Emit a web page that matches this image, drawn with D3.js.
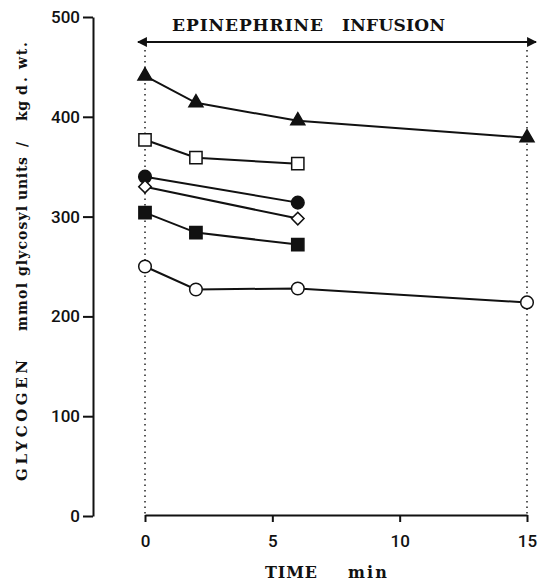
<!DOCTYPE html>
<html>
<head>
<meta charset="utf-8">
<script src="https://cdn.jsdelivr.net/npm/d3@7"></script>
<style>
  body { margin: 0; background: #fff; }
  svg { display: block; }
  .tick text { font-family: Roboto, "Liberation Sans", sans-serif; font-weight: 500; font-size: 17px; fill: #111; }
  .lab { font-family: "DejaVu Serif", "Liberation Serif", serif; font-weight: bold; fill: #111; }
</style>
</head>
<body>
<svg id="chart"></svg>
<script>
let width = 538, height = 583;

// data (time in min, glycogen mmol/kg d.wt.)
let triTime = [0, 2, 6, 15];
let triVal = [441, 414, 396, 379];
let openSqTime = [0, 2, 6];
let openSqVal = [377, 359, 353];
let dotTime = [0, 6];
let dotVal = [340, 314];
let diaTime = [0, 6];
let diaVal = [330, 298];
let fillSqTime = [0, 2, 6];
let fillSqVal = [304, 284, 272];
let ringTime = [0, 2, 6, 15];
let ringVal = [250, 227, 228, 214];

let xTicks = [0, 5, 10, 15];
let yTicks = [0, 100, 200, 300, 400, 500];

let series = [
    {t: triTime, v: triVal, shape: 'triangle', fill: '#111'},
    {t: openSqTime, v: openSqVal, shape: 'square', fill: '#fff'},
    {t: dotTime, v: dotVal, shape: 'circle', fill: '#111'},
    {t: diaTime, v: diaVal, shape: 'diamond', fill: '#fff'},
    {t: fillSqTime, v: fillSqVal, shape: 'square', fill: '#111'},
    {t: ringTime, v: ringVal, shape: 'circle', fill: '#fff'}
];

let svg = d3.select('#chart').attr('width', width).attr('height', height);

let x = d3.scaleLinear().domain([0, 15]).range([145, 527]);
let y = d3.scaleLinear().domain([0, 500]).range([516, 17]);

// y axis
let gy = svg.append('g')
    .attr('transform', 'translate(93,0)')
    .call(d3.axisLeft(y).tickValues(yTicks).tickSize(10).tickPadding(3).tickSizeOuter(0));
gy.select('.domain').attr('stroke', '#111').attr('stroke-width', 2);
gy.selectAll('.tick line').attr('stroke', '#111').attr('stroke-width', 2);

// x axis
let gx = svg.append('g')
    .attr('transform', 'translate(0,515)')
    .call(d3.axisBottom(x).tickValues(xTicks).tickSize(7).tickPadding(13).tickSizeOuter(0));
gx.select('.domain').attr('stroke', '#111').attr('stroke-width', 2);
gx.selectAll('.tick line').attr('stroke', '#111').attr('stroke-width', 2);

// dotted lines at start/end of infusion
[0, 15].forEach(t => {
    svg.append('line')
        .attr('x1', x(t)).attr('x2', x(t))
        .attr('y1', 50).attr('y2', 514)
        .attr('stroke', '#222').attr('stroke-width', 1.5)
        .attr('stroke-dasharray', '1.5,4');
});

// infusion arrow
svg.append('defs').append('marker')
    .attr('id', 'ah').attr('viewBox', '0 0 10 10')
    .attr('refX', 9).attr('refY', 5)
    .attr('markerWidth', 4.5).attr('markerHeight', 4.5)
    .attr('orient', 'auto-start-reverse')
    .append('path').attr('d', 'M0,0L10,5L0,10z').attr('fill', '#111');
svg.append('line')
    .attr('x1', 138).attr('x2', 536).attr('y1', 42).attr('y2', 42)
    .attr('stroke', '#111').attr('stroke-width', 2.2)
    .attr('marker-start', 'url(#ah)').attr('marker-end', 'url(#ah)');

function spaced(g, txt, x0, len, size) {
    g.append('text').attr('class', 'lab')
        .attr('x', x0).attr('y', 0)
        .attr('font-size', size)
        .attr('textLength', len).attr('lengthAdjust', 'spacing')
        .text(txt);
}

let title = svg.append('g').attr('transform', 'translate(0,31)');
spaced(title, 'EPINEPHRINE', 172, 151, 17);
spaced(title, 'INFUSION', 342, 103, 17);

// lines and markers
let line = d3.line().x(d => x(d[0])).y(d => y(d[1]));
let symbols = {
    triangle: d3.symbol().type(d3.symbolTriangle).size(85),
    square: d3.symbol().type(d3.symbolSquare).size(150),
    circle: d3.symbol().type(d3.symbolCircle).size(125),
    diamond: d3.symbol().type(d3.symbolSquare).size(78)
};

series.forEach(s => {
    let pts = s.t.map((t, i) => [t, s.v[i]]);
    svg.append('path').datum(pts)
        .attr('d', line).attr('fill', 'none')
        .attr('stroke', '#111').attr('stroke-width', 2);
    svg.append('g').selectAll('path')
        .data(pts).enter().append('path')
        .attr('transform', d => `translate(${x(d[0])},${y(d[1])})` + (s.shape == 'diamond' ? ' rotate(45)' : ''))
        .attr('d', symbols[s.shape])
        .attr('fill', s.fill)
        .attr('stroke', '#111').attr('stroke-width', 1.5);
});

// axis titles
let yl = svg.append('g').attr('transform', 'translate(27,0) rotate(-90)');
spaced(yl, 'GLYCOGEN', -481, 121, 15);
spaced(yl, 'mmol', -331, 48, 14);
spaced(yl, 'glycosyl', -276, 70, 14);
spaced(yl, 'units', -200, 43, 14);
spaced(yl, '/', -147, 9, 14);
spaced(yl, 'kg', -121, 20, 14);
spaced(yl, 'd.', -95, 18, 14);
spaced(yl, 'wt.', -69, 27, 14);

let xl = svg.append('g').attr('transform', 'translate(0,578)');
spaced(xl, 'TIME', 265, 52, 16);
spaced(xl, 'min', 348, 39, 16);
</script>
</body>
</html>
